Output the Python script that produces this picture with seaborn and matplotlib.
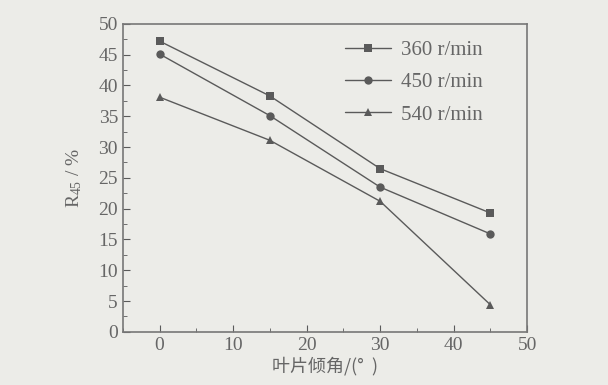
import pandas as pd
import matplotlib.pyplot as plt
import seaborn as sns
from matplotlib.ticker import MultipleLocator

# blade angle (deg) and R45 (%) for each speed
angles = [0, 15, 30, 45]
speeds = ["360 r/min", "450 r/min", "540 r/min"]
r360 = [47.2, 38.3, 26.5, 19.3]
r450 = [45.1, 35.1, 23.5, 15.9]
r540 = [38.1, 31.1, 21.2, 4.4]

df = pd.DataFrame({
    "angle": angles * 3,
    "r45": r360 + r450 + r540,
    "speed": [s for s in speeds for _ in angles],
})

sns.set_style("ticks")
plt.rcParams["font.family"] = ["Liberation Serif", "Noto Sans CJK SC"]
plt.rcParams["mathtext.fontset"] = "custom"
plt.rcParams["mathtext.rm"] = "Liberation Serif"
plt.rcParams["mathtext.it"] = "Liberation Serif:italic"

bg = "#ececE8"
ink = "#5a5a5a"
txt = "#666666"

fig = plt.figure(figsize=(6.08, 3.85), dpi=100, facecolor=bg)
ax = fig.add_axes([0.202, 0.138, 0.665, 0.800])
ax.set_facecolor(bg)

sns.lineplot(
    data=df, x="angle", y="r45", hue="speed", style="speed",
    markers={"360 r/min": "s", "450 r/min": "o", "540 r/min": "^"},
    dashes=False, palette=[ink] * 3, linewidth=1.0, markersize=6,
    markeredgewidth=0, ax=ax,
)

ax.set_xlim(-5, 50)
ax.set_ylim(0, 50)
ax.xaxis.set_major_locator(MultipleLocator(10))
ax.xaxis.set_minor_locator(MultipleLocator(5))
ax.yaxis.set_major_locator(MultipleLocator(5))
ax.yaxis.set_minor_locator(MultipleLocator(2.5))
ax.tick_params(which="both", direction="in", colors=ink, labelsize=14, labelcolor=txt)
ax.tick_params(which="major", length=5)
ax.tick_params(which="minor", length=3)
for sp in ax.spines.values():
    sp.set_color("#777777")
    sp.set_linewidth(1.2)

ax.set_xlabel("叶片倾角/(°  )", fontsize=13, color=txt,
              family=["Noto Sans CJK SC", "Liberation Serif"], labelpad=2)
ax.set_ylabel("$\\mathrm{R}_{45}$ / %", fontsize=14, color=txt, labelpad=10)

leg = ax.legend(loc="upper left", bbox_to_anchor=(0.55, 0.945), frameon=False,
                borderaxespad=0, borderpad=0,
                fontsize=15, handlelength=2.2, labelspacing=0.6, handletextpad=0.5)
for t in leg.get_texts():
    t.set_color(txt)

fig.savefig("out.png", dpi=100, facecolor=bg)
